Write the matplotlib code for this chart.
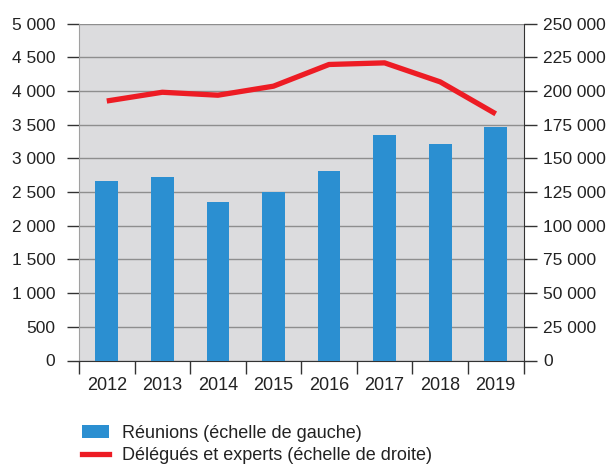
import matplotlib
matplotlib.use("Agg")
import matplotlib.pyplot as plt
from matplotlib.ticker import FixedLocator, FuncFormatter
from matplotlib.lines import Line2D
from matplotlib.patches import Patch
import numpy as np

plt.rcParams['font.family'] = ['Liberation Sans', 'DejaVu Sans']

years = ['2012', '2013', '2014', '2015', '2016', '2017', '2018', '2019']
meetings = [2660, 2720, 2350, 2495, 2805, 3350, 3205, 3465]
delegates = [192500, 199000, 196800, 203500, 219600, 220800, 206700, 183000]

bar_color = '#2b8fd1'
line_color = '#ed1c24'
bg = '#dcdcde'

def fmt_space(v, pos=None):
    return f"{int(v):,}".replace(",", " ")

fig = plt.figure(figsize=(6.08, 4.66), dpi=100)
ax = fig.add_axes([79 / 608, 1 - 360.5 / 466, 444.5 / 608, 337 / 466])
ax.set_facecolor(bg)

x = np.arange(len(years))
ax.bar(x, meetings, width=0.41, color=bar_color, zorder=3)
ax.set_xlim(-0.5, len(years) - 0.5)
ax.set_ylim(0, 5000)
ax.set_yticks(np.arange(0, 5001, 500))
ax.yaxis.set_major_formatter(FuncFormatter(fmt_space))
ax.grid(axis='y', color='#8e8e8e', lw=1.0, zorder=1)

# category labels between boundary ticks
ax.set_xticks(x)
ax.set_xticklabels(years)
ax.xaxis.set_minor_locator(FixedLocator(np.arange(-0.5, len(years), 1)))
ax.tick_params(axis='x', which='major', length=0, pad=12, labelsize=13)
ax.tick_params(axis='x', which='minor', length=9, width=1, color='#333333')
ax.tick_params(axis='y', length=9, width=1, color='#333333', pad=8, labelsize=12.5,
               labelcolor='#222222')
ax.tick_params(axis='x', labelcolor='#222222')

ax2 = ax.twinx()
ax2.plot(x, delegates, color=line_color, lw=3.8, zorder=4, solid_capstyle='butt')
ax2.set_ylim(0, 250000)
ax2.set_yticks(np.arange(0, 250001, 25000))
ax2.yaxis.set_major_formatter(FuncFormatter(fmt_space))
ax2.tick_params(axis='y', length=9, width=1, color='#333333', pad=5, labelsize=12.5,
                labelcolor='#222222')

for a in (ax, ax2):
    a.spines['top'].set_visible(False)
ax.spines['left'].set_color('#a0a0a0')
ax2.spines['left'].set_visible(False)
ax.spines['bottom'].set_color('#333333')
ax2.spines['bottom'].set_visible(False)
ax.spines['right'].set_visible(False)
ax2.spines['right'].set_color('#333333')

handles = [Patch(facecolor=bar_color, edgecolor='none'),
           Line2D([0], [0], color=line_color, lw=3.8)]
labels = ['Réunions (échelle de gauche)', 'Délégués et experts (échelle de droite)']
fig.legend(handles, labels, loc='upper left', bbox_to_anchor=(82 / 608, 1 - 425 / 466),
           frameon=False, fontsize=13, handlelength=1.5, handleheight=0.75,
           handletextpad=0.72, labelspacing=0.3, borderaxespad=0, borderpad=0,
           labelcolor='#222222')

fig.savefig('out.png', dpi=100)
